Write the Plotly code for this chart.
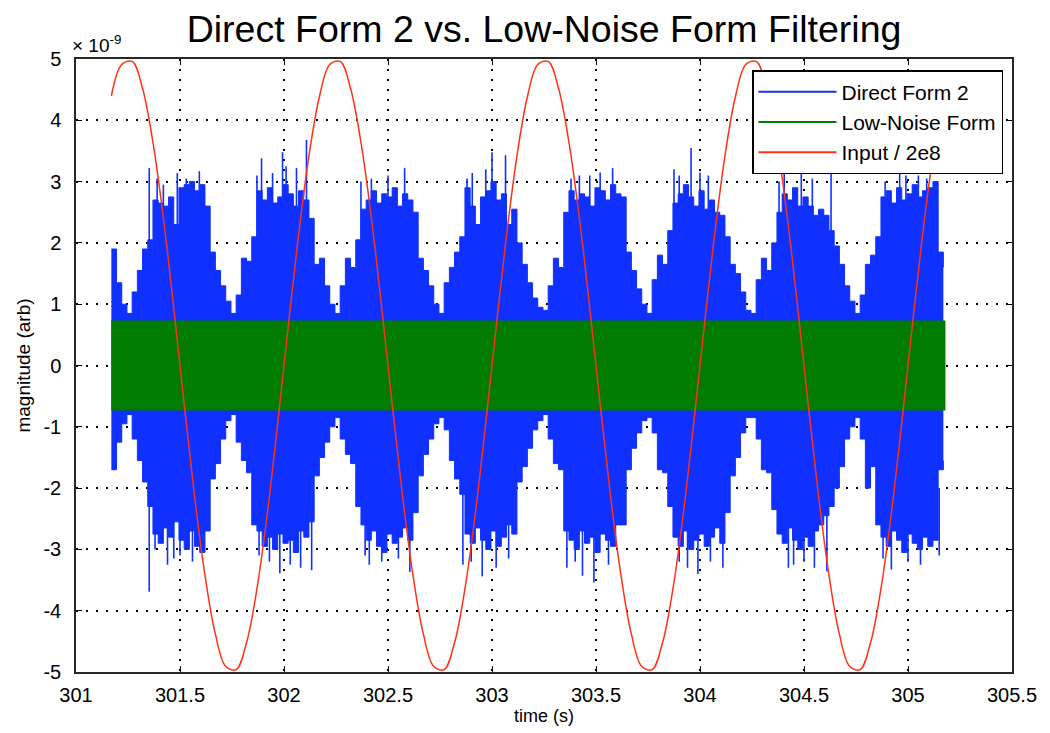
import numpy as np
import plotly.graph_objects as go

# ---------------- data (units of 1e-9) ----------------
T0_BLUE = 301.17      # first sample time of the filtered outputs (s)
DT_BLUE = 0.025       # envelope sampling step (s)

# Direct Form 2 output: upper envelope
df2_upper = [
    1.90, 1.35, 1.00,
    0.85, 1.20, 1.55, 1.90, 2.05, 2.70, 2.65, 2.60, 2.75, 2.30, 2.90, 2.95, 3.00, 2.85, 2.95, 2.60, 1.85, 1.55, 1.30, 1.05,
    0.85, 1.15, 1.75, 1.70, 2.10, 2.85, 2.70, 2.90, 2.65, 2.75, 2.95, 2.80, 2.60, 2.85, 2.70, 2.40, 1.65, 1.75, 1.30, 1.00,
    0.85, 1.30, 1.75, 1.60, 2.05, 2.55, 2.70, 2.85, 2.65, 2.80, 2.75, 2.90, 2.60, 2.80, 2.70, 2.50, 1.75, 1.55, 1.30, 1.00,
    0.85, 1.35, 1.60, 1.85, 2.10, 2.90, 2.60, 2.30, 2.75, 2.85, 3.00, 2.70, 2.80, 2.30, 2.55, 2.00, 1.65, 1.35, 1.10, 0.95,
    0.90, 1.30, 1.75, 1.60, 2.50, 2.85, 2.70, 2.80, 2.75, 2.60, 2.90, 2.85, 2.70, 2.95, 2.80, 2.75, 1.85, 1.55, 1.25, 1.00,
    0.85, 1.40, 1.80, 1.65, 2.20, 2.65, 2.80, 2.95, 2.75, 2.60, 2.85, 2.55, 2.70, 2.50, 2.45, 2.10, 1.65, 1.50, 1.20, 0.90,
    0.85, 1.40, 1.75, 1.55, 2.00, 2.50, 2.80, 2.70, 2.90, 2.60, 2.75, 2.60, 2.45, 2.55, 2.45, 2.20, 1.95, 1.65, 1.30, 1.05,
    0.85, 1.15, 1.65, 1.80, 2.10, 2.75, 2.85, 2.65, 2.90, 2.70, 2.80, 2.95, 2.75, 2.85, 2.90, 3.00, 1.85, 1.60,
]
# Direct Form 2 output: lower envelope
df2_lower = [
    -1.70, -1.25, -0.95,
    -0.80, -1.20, -1.55, -1.90, -2.30, -2.75, -2.90, -2.65, -2.80, -2.55, -2.85, -3.00, -2.70, -2.95, -3.05, -2.70, -1.85, -1.60, -1.20, -0.90,
    -0.80, -1.25, -1.55, -1.75, -2.60, -2.70, -2.95, -2.80, -3.00, -2.75, -2.90, -2.85, -3.05, -2.70, -2.80, -2.55, -1.80, -1.50, -1.25, -1.00,
    -0.85, -1.20, -1.45, -1.60, -2.30, -2.60, -2.85, -2.70, -2.95, -3.05, -2.75, -2.90, -2.80, -2.65, -2.85, -2.40, -1.80, -1.45, -1.20, -0.95,
    -0.85, -1.05, -1.55, -1.85, -2.10, -2.75, -2.90, -2.65, -2.85, -3.00, -2.70, -2.95, -2.80, -2.60, -2.75, -1.90, -1.65, -1.35, -1.05, -0.90,
    -0.80, -1.20, -1.60, -1.70, -2.70, -2.85, -3.00, -2.70, -2.90, -2.80, -3.05, -2.75, -2.85, -2.95, -2.60, -2.60, -1.70, -1.35, -1.10, -0.90,
    -0.85, -1.10, -1.70, -1.75, -2.30, -2.80, -2.95, -2.70, -3.00, -2.85, -2.75, -2.95, -2.80, -2.65, -2.90, -2.40, -1.80, -1.50, -1.10, -0.85,
    -0.85, -1.20, -1.70, -1.75, -2.35, -2.75, -2.90, -2.65, -2.85, -3.00, -2.80, -2.95, -2.70, -2.60, -2.45, -2.30, -2.00, -1.65, -1.20, -1.00,
    -0.85, -1.20, -2.00, -1.65, -2.60, -2.80, -2.95, -2.70, -2.85, -3.05, -2.75, -2.90, -3.00, -2.80, -2.95, -2.85, -1.70, -1.55,
]
# Direct Form 2 output: isolated peaks above / below the envelope
df2_spike_up_t = [301.352, 301.39, 301.42, 301.487, 301.53, 301.593, 301.87, 301.892, 301.945, 301.993,
                  302.01, 302.06, 302.108, 302.37, 302.42, 302.50, 302.58, 302.88, 302.905, 302.97,
                  303.0, 303.065, 303.38, 303.42, 303.47, 303.52, 303.58, 303.875, 303.90, 303.957,
                  304.00, 304.04, 304.38, 304.405, 304.487, 304.54, 304.63, 304.89, 304.96, 304.99,
                  305.05, 305.09, 305.14]
df2_spike_up_v = [3.22, 3.05, 2.95, 3.14, 3.05, 3.17, 3.10, 3.38, 3.14, 3.48,
                  3.25, 3.22, 3.68, 3.00, 3.05, 3.10, 3.22, 3.05, 3.14, 3.20,
                  3.48, 3.43, 3.05, 3.10, 3.10, 3.15, 3.22, 3.20, 3.10, 3.55,
                  3.15, 3.10, 3.00, 3.17, 3.14, 3.05, 3.17, 3.00, 3.17, 3.10,
                  3.10, 3.05, 3.00]
df2_spike_dn_t = [301.352, 301.38, 301.44, 301.47, 301.50, 301.56, 301.88, 301.93, 301.98, 302.03,
                  302.08, 302.133, 302.39, 302.41, 302.47, 302.55, 302.605, 302.86, 302.90, 302.953,
                  303.02, 303.08, 303.36, 303.40, 303.435, 303.49, 303.56, 303.90, 303.94, 303.99,
                  304.05, 304.11, 304.425, 304.45, 304.50, 304.55, 304.61, 304.88, 304.92, 305.00,
                  305.06, 305.15]
df2_spike_dn_v = [-3.69, -3.00, -3.25, -3.15, -3.10, -3.20, -3.10, -3.20, -3.39, -3.25,
                  -3.30, -3.34, -3.10, -3.25, -3.20, -3.15, -3.37, -3.25, -3.20, -3.44,
                  -3.30, -3.15, -3.30, -3.20, -3.43, -3.54, -3.25, -3.20, -3.30, -3.40,
                  -3.20, -3.30, -3.30, -3.25, -3.20, -3.30, -3.36, -3.15, -3.33, -3.20,
                  -3.25, -3.10]

# Low-noise form output band
lnf_t = [301.17, 305.18]
lnf_upper = [0.73, 0.73]
lnf_lower = [-0.73, -0.73]

# Input / 2e8
T0_RED = 301.17
DT_RED = 0.05
input_scaled = [
    4.40, 4.91, 4.96, 4.52, 3.64, 2.41, 0.94, -0.63, -2.13, -3.42,
    -4.38, -4.91, -4.96, -4.52, -3.64, -2.41, -0.94, 0.63, 2.13, 3.42,
    4.38, 4.91, 4.96, 4.52, 3.64, 2.41, 0.94, -0.63, -2.13, -3.42,
    -4.38, -4.91, -4.96, -4.52, -3.64, -2.41, -0.94, 0.63, 2.13, 3.42,
    4.38, 4.91, 4.96, 4.52, 3.64, 2.41, 0.94, -0.63, -2.13, -3.42,
    -4.38, -4.91, -4.96, -4.52, -3.64, -2.41, -0.94, 0.63, 2.13, 3.42,
    4.38, 4.91, 4.96, 4.52, 3.64, 2.41, 0.94, -0.63, -2.13, -3.42,
    -4.38, -4.91, -4.96, -4.52, -3.64, -2.41, -0.94, 0.63, 2.13, 3.42,
    4.38,
]

x_ticks = [301, 301.5, 302, 302.5, 303, 303.5, 304, 304.5, 305, 305.5]
x_ticktext = ["301", "301.5", "302", "302.5", "303", "303.5", "304", "304.5", "305", "305.5"]
y_ticks = [-5, -4, -3, -2, -1, 0, 1, 2, 3, 4, 5]
y_ticktext = ["-5", "-4", "-3", "-2", "-1", "0", "1", "2", "3", "4", "5"]

# ---------------- styles ----------------
BLUE = "rgb(16,48,255)"
GREEN = "rgb(0,125,0)"
RED = "rgb(255,50,20)"
FONT = "Liberation Sans, Arial, Helvetica, sans-serif"

t_blue = np.round(T0_BLUE + DT_BLUE * np.arange(len(df2_upper)), 4)
t_red = np.round(T0_RED + DT_RED * np.arange(len(input_scaled)), 4)

def segs(ts, vs, base):
    xs, ys = [], []
    for t, v in zip(ts, vs):
        xs += [t, t, None]
        ys += [base, v, None]
    return xs, ys

fig = go.Figure()

# Direct Form 2 (filled envelope)
fig.add_trace(go.Scatter(x=t_blue, y=df2_lower, mode="lines", line=dict(color=BLUE, width=1, shape="hv"),
                         showlegend=False, hoverinfo="skip"))
fig.add_trace(go.Scatter(x=t_blue, y=df2_upper, mode="lines", line=dict(color=BLUE, width=1, shape="hv"),
                         fill="tonexty", fillcolor=BLUE, showlegend=False, hoverinfo="skip"))
sx, sy = segs(df2_spike_up_t, df2_spike_up_v, 2.0)
fig.add_trace(go.Scatter(x=sx, y=sy, mode="lines", line=dict(color=BLUE, width=1.6),
                         showlegend=False, hoverinfo="skip"))
sx, sy = segs(df2_spike_dn_t, df2_spike_dn_v, -2.0)
fig.add_trace(go.Scatter(x=sx, y=sy, mode="lines", line=dict(color=BLUE, width=1.6),
                         showlegend=False, hoverinfo="skip"))

# Low-noise form band
fig.add_trace(go.Scatter(x=lnf_t, y=lnf_lower, mode="lines", line=dict(color=GREEN, width=0.5),
                         showlegend=False, hoverinfo="skip"))
fig.add_trace(go.Scatter(x=lnf_t, y=lnf_upper, mode="lines", line=dict(color=GREEN, width=0.5),
                         fill="tonexty", fillcolor=GREEN, showlegend=False, hoverinfo="skip"))

# Input / 2e8
fig.add_trace(go.Scatter(x=t_red, y=input_scaled, mode="lines",
                         line=dict(color=RED, width=1.5, shape="spline", smoothing=1.0),
                         showlegend=False, hoverinfo="skip"))

# legend entries
for name, col in [("Direct Form 2", BLUE), ("Low-Noise Form", GREEN), ("Input / 2e8", RED)]:
    fig.add_trace(go.Scatter(x=[None], y=[None], mode="lines", line=dict(color=col, width=2),
                             name=name, legendgroup=name, showlegend=True))

axis_common = dict(
    showline=True, linecolor="rgb(40,40,40)", linewidth=1.5, mirror="ticks",
    ticks="inside", ticklen=6, tickwidth=1, tickcolor="black",
    showgrid=True, gridcolor="black", gridwidth=1.5, griddash="1.5px,8.5px",
    zeroline=False, automargin=False,
    tickfont=dict(family=FONT, size=20, color="black"),
)

fig.update_xaxes(range=[301, 305.5], tickvals=x_ticks, ticktext=x_ticktext,
                 title=dict(text="time (s)", font=dict(family=FONT, size=18, color="black"), standoff=3),
                 ticklabelstandoff=4, **axis_common)
fig.update_yaxes(range=[-5, 5], tickvals=y_ticks, ticktext=y_ticktext,
                 title=dict(text="magnitude (arb)", font=dict(family=FONT, size=19, color="black"), standoff=8),
                 ticklabelstandoff=9, **axis_common)

# the page places the figure 8 px in from the top-left corner, so the
# figure is 8 px smaller and its margins are shifted accordingly
fig.update_layout(
    width=1042, height=725,
    margin=dict(l=68, r=38, t=51, b=61),
    paper_bgcolor="white", plot_bgcolor="white",
    font=dict(family=FONT, color="black"),
    title=dict(text="Direct Form 2 vs. Low-Noise Form Filtering",
               font=dict(family=FONT, size=37.5, color="black"),
               x=0.5, xref="paper", xanchor="center",
               y=0.971, yref="container", yanchor="middle", automargin=False),
    legend=dict(x=0.9904, y=0.982, xanchor="right", yanchor="top",
                bgcolor="white", bordercolor="black", borderwidth=1.5,
                font=dict(family=FONT, size=21, color="black"),
                traceorder="grouped", tracegroupgap=0, itemwidth=78),
    annotations=[dict(text="\u00d7 10<sup>-9</sup>", xref="paper", yref="paper",
                      x=-0.006, y=1.0, xanchor="left", yanchor="bottom", yshift=1,
                      showarrow=False, font=dict(family=FONT, size=19, color="black"))],
)

fig.write_html("out.html")
